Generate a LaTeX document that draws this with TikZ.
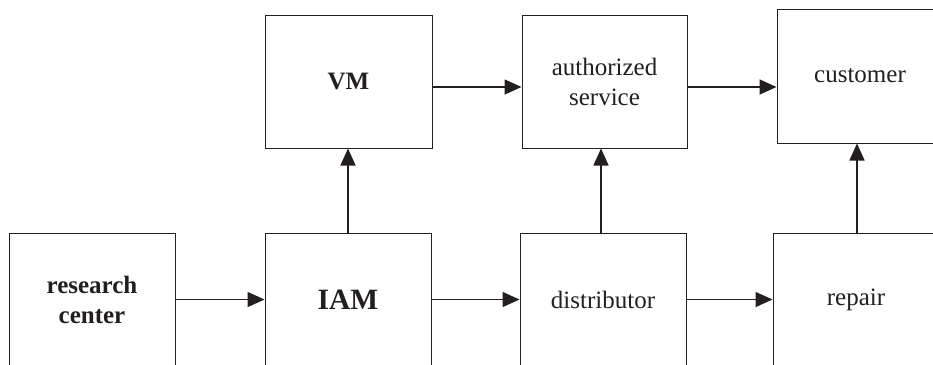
\documentclass[tikz,border=0pt]{standalone}
\usepackage{fontspec}
\setmainfont{Liberation Serif}
\usetikzlibrary{arrows.meta}
\definecolor{ink}{HTML}{231F20}
\begin{document}
\begin{tikzpicture}[x=1pt,y=-1pt,
  blockbox/.style={draw=ink, line width=1pt, minimum width=166pt, minimum height=133pt,
    inner sep=0pt, align=center, text=ink, font=\fontsize{25}{30}\selectfont},
  arr/.style={draw=ink, line width=1.5pt, -{Triangle[length=17pt,width=15pt]}}]
  \path[use as bounding box, clip] (0,0) rectangle (933,364);

  % lower row
  \node[blockbox, font=\bfseries\fontsize{25}{30}\selectfont] (rc) at (92,299.5) {research\\center};
  \node[blockbox, font=\bfseries\fontsize{29.5}{34}\selectfont] (iam) at (348,299.5) {IAM};
  \node[blockbox] (dist) at (603,299.5) {distributor};
  \node[blockbox] (rep) at (856,299.5) {repair};

  % upper row
  \node[blockbox, minimum width=167pt, font=\bfseries\fontsize{25}{30}\selectfont] (vm) at (348.5,81.5) {VM};
  \node[blockbox, minimum width=165pt] (auth) at (604.5,81.5) {authorized\\service};
  \node[blockbox, minimum height=134pt] (cust) at (860,76) {customer};

  % horizontal flow
  \draw[arr] (rc.east) -- (iam.west);
  \draw[arr] (iam.east) -- (dist.west);
  \draw[arr] (dist.east) -- (rep.west);
  \coordinate (vmout) at ([yshift=-5.5pt]vm.east);
  \coordinate (authout) at ([yshift=-5.5pt]auth.east);
  \draw[arr] (vmout) -- (auth.west |- vmout);
  \draw[arr] (authout) -- (cust.west |- authout);

  % vertical flow
  \draw[arr] (iam.north) -- (vm.south -| iam.north);
  \coordinate (distup) at ([xshift=-2pt]dist.north);
  \draw[arr] (distup) -- (auth.south -| distup);
  \coordinate (repup) at ([xshift=1pt]rep.north);
  \draw[arr] (repup) -- (cust.south -| repup);
\end{tikzpicture}
\end{document}
